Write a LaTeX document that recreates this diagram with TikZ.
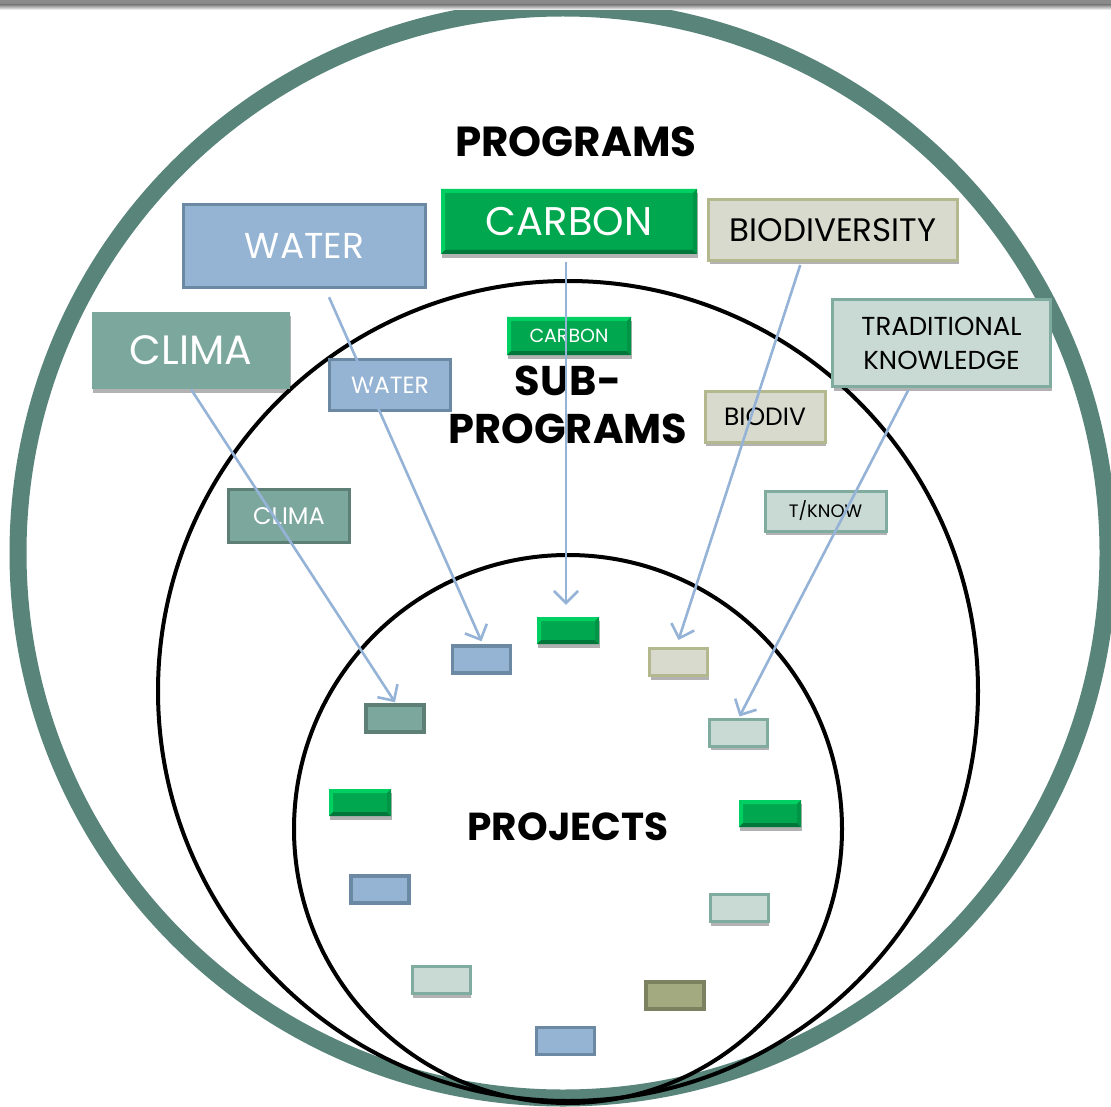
\documentclass[tikz,border=0pt]{standalone}
\usepackage{fontspec}
\setmainfont{Poppins}
\usetikzlibrary{arrows.meta,shadows,calc}
\definecolor{ringC}{HTML}{58847A}
\definecolor{barG}{HTML}{8A8A8A}
\definecolor{waterF}{HTML}{95B3D2}
\definecolor{waterD}{HTML}{6C89A3}
\definecolor{climaF}{HTML}{7BA79D}
\definecolor{climaD}{HTML}{5E7F76}
\definecolor{carbG}{HTML}{00A74E}
\definecolor{carbL}{HTML}{00CF62}
\definecolor{carbD}{HTML}{00773A}
\definecolor{carbR}{HTML}{009446}
\definecolor{bioF}{HTML}{D8DACE}
\definecolor{bioD}{HTML}{B4B88E}
\definecolor{tkF}{HTML}{C9DAD4}
\definecolor{tkD}{HTML}{80AB9F}
\definecolor{oliveF}{HTML}{A4AA80}
\definecolor{oliveD}{HTML}{7C8160}
\definecolor{arrC}{HTML}{95B3D7}
\tikzset{
  bx/.style={rectangle, inner sep=0pt, anchor=center, align=center},
  shad/.style={drop shadow={shadow xshift=1pt, shadow yshift=-4pt, opacity=0.3, fill=black}},
  waterbox/.style={bx, fill=waterF, draw=waterD, line width=3.5pt, text=white},
  climabox/.style={bx, fill=climaF, draw=climaD, line width=3.5pt, text=white},
  climabig/.style={bx, fill=climaF, draw=none, text=white, shad},
  biobox/.style={bx, fill=bioF, draw=bioD, line width=3pt, text=black, shad},
  tkbox/.style={bx, fill=tkF, draw=tkD, line width=3pt, text=black, shad},
  olivebox/.style={bx, fill=oliveF, draw=oliveD, line width=3.5pt},
  carbbox/.style={bx, fill=carbG, draw=none, text=white, shad,
    path picture={
      \fill[carbL] (path picture bounding box.north west) -- (path picture bounding box.north east)
        -- ([xshift=-4pt,yshift=-4pt]path picture bounding box.north east)
        -- ([xshift=4pt,yshift=-4pt]path picture bounding box.north west) -- cycle;
      \fill[carbL] (path picture bounding box.north west) -- (path picture bounding box.south west)
        -- ([xshift=4pt,yshift=4pt]path picture bounding box.south west)
        -- ([xshift=4pt,yshift=-4pt]path picture bounding box.north west) -- cycle;
      \fill[carbD] (path picture bounding box.south west) -- (path picture bounding box.south east)
        -- ([xshift=-4pt,yshift=4pt]path picture bounding box.south east)
        -- ([xshift=4pt,yshift=4pt]path picture bounding box.south west) -- cycle;
      \fill[carbR] (path picture bounding box.north east) -- (path picture bounding box.south east)
        -- ([xshift=-4pt,yshift=4pt]path picture bounding box.south east)
        -- ([xshift=-4pt,yshift=-4pt]path picture bounding box.north east) -- cycle;
    }},
  proj/.style={minimum width=58pt, minimum height=27pt},
  arr/.style={draw=arrC, line width=2.6pt, -{Straight Barb[length=12pt,width=24pt]}},
  ttl/.style={font=\bfseries\fontsize{42}{46}\selectfont, text=black, align=center, inner sep=0pt}
}
\begin{document}
\begin{tikzpicture}[x=1pt,y=-1pt]
\useasboundingbox (0,0) rectangle (1111,1107);
\clip (0,0) rectangle (1111,1107);
\fill[white] (0,0) rectangle (1111,1107);
% circles
\draw[ringC, line width=17pt] (563,553) circle (545);
\draw[black, line width=4pt] (568,691) circle (410);
\draw[black, line width=4pt] (568,829) circle (274);
% top bar
\fill[barG] (0,0) rectangle (1111,5);
\shade[top color=barG, bottom color=white] (0,5) rectangle (1111,10);
% titles
\node[ttl] (tProg) at (576,142) {PROGRAMS};
\node[ttl, font=\bfseries\fontsize{41.5}{48}\selectfont] (tSub) at (568,405) {SUB-\\PROGRAMS};
\node[ttl, font=\bfseries\fontsize{39}{46}\selectfont] (tProj) at (568,827) {PROJECTS};
% program boxes
\node[waterbox, minimum width=242pt, minimum height=83pt, font=\fontsize{36}{40}\selectfont] (WATERbig) at (304.5,246) {WATER};
\node[climabig, minimum width=198pt, minimum height=77pt, font=\fontsize{41}{42}\selectfont] (CLIMAbig) at (191,350.5) {CLIMA};
\node[carbbox, minimum width=256pt, minimum height=65pt, font=\fontsize{40}{42}\selectfont] (CARBONbig) at (569,221.5) {CARBON};
\node[biobox, minimum width=249pt, minimum height=61pt, font=\fontsize{32.5}{34}\selectfont] (BIObig) at (833,230) {BIODIVERSITY};
\node[tkbox, minimum width=218pt, minimum height=87pt, font=\fontsize{26}{34}\selectfont] (TKbig) at (941.5,343) {TRADITIONAL\\KNOWLEDGE};
% sub-program boxes
\node[carbbox, minimum width=124pt, minimum height=38pt, font=\fontsize{19}{20}\selectfont] (CARBONsub) at (569,336) {CARBON};
\node[waterbox, minimum width=121pt, minimum height=51pt, font=\fontsize{23.5}{25}\selectfont] (WATERsub) at (390,385) {WATER};
\node[climabox, minimum width=121pt, minimum height=53pt, font=\fontsize{24}{25}\selectfont] (CLIMAsub) at (289,516) {CLIMA};
\node[biobox, minimum width=120pt, minimum height=51pt, font=\fontsize{25}{27}\selectfont] (BIOsub) at (765,416.5) {BIODIV};
\node[tkbox, minimum width=121pt, minimum height=40pt, font=\fontsize{18}{20}\selectfont] (TKsub) at (825.5,511) {T/KNOW};
% project boxes
\node[climabox, proj] (p1) at (395,718.5) {};
\node[waterbox, proj] (p2) at (481.5,659.5) {};
\node[carbbox, proj, minimum width=62pt, minimum height=27pt] (p3) at (568,630.5) {};
\node[biobox, proj] (p4) at (678.5,662) {};
\node[tkbox, proj] (p5) at (738.5,732.5) {};
\node[carbbox, proj, minimum width=62pt, minimum height=27pt] (p6) at (360,802.5) {};
\node[carbbox, proj, minimum width=62pt, minimum height=27pt] (p7) at (770,813.5) {};
\node[waterbox, proj] (p8) at (380,889.5) {};
\node[tkbox, proj] (p9) at (739,908) {};
\node[tkbox, proj] (p10) at (441,980) {};
\node[olivebox, proj] (p11) at (675,995.5) {};
\node[waterbox, proj] (p12) at (565.5,1041) {};
% arrows
\draw[arr] (CLIMAbig.south) -- ([yshift=1pt]p1.north);
\draw[arr] ($(WATERbig.south west)!0.6!(WATERbig.south east)+(0,8)$) -- ([yshift=3pt]p2.north);
\draw[arr] ($(CARBONbig.south)+(-3,8)$) -- ($(p3.north)+(-2,-12)$);
\draw[arr] ($(BIObig.south west)!0.37!(BIObig.south east)+(0,3)$) -- ($(p4.north)+(0,-7)$);
\draw[arr] ($(TKbig.south west)!0.35!(TKbig.south east)+(0,2)$) -- ($(p5.north)+(1,-1)$);
\end{tikzpicture}
\end{document}
